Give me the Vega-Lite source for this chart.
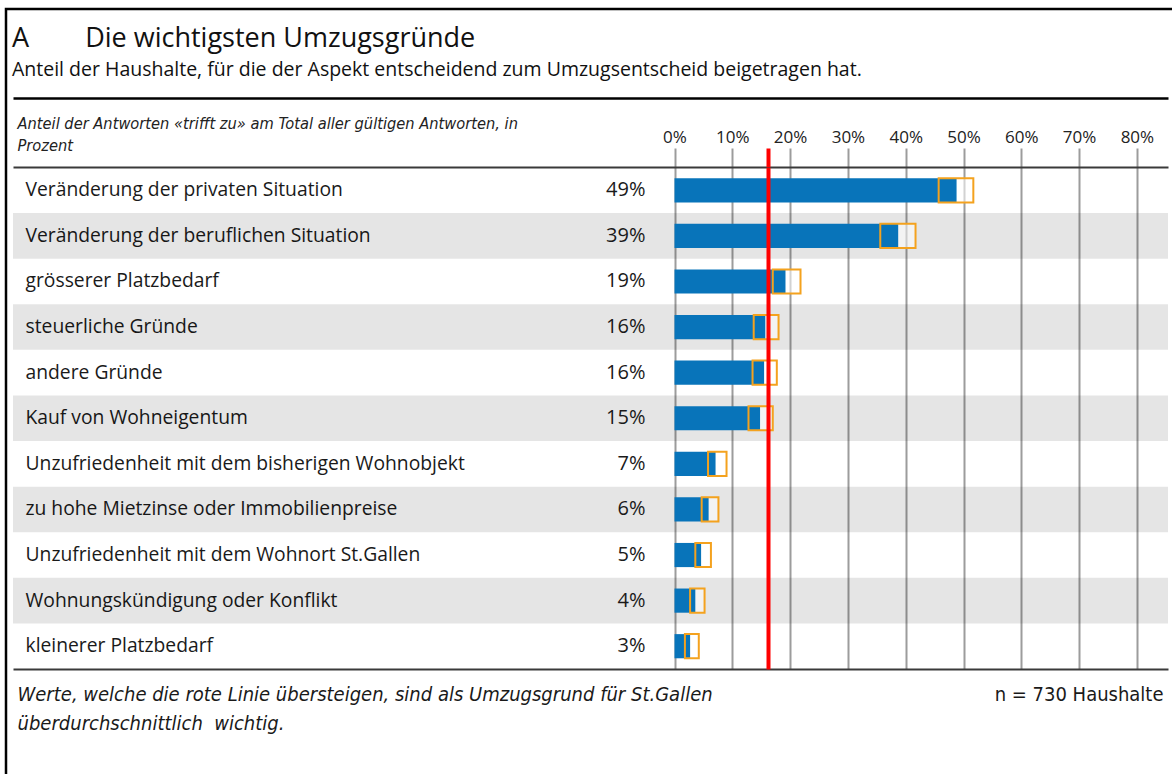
{
  "$schema": "https://vega.github.io/schema/vega-lite/v6.json",
  "autosize": {"type": "none"},
  "padding": {"left": 6, "top": 9, "right": -3, "bottom": -3},
  "width": 1169,
  "height": 768,
  "background": "#ffffff",
  "title": {
    "text": "A\u00a0\u00a0\u00a0\u00a0\u00a0\u00a0\u00a0\u00a0Die wichtigsten Umzugsgründe",
    "subtitle": "Anteil der Haushalte, für die der Aspekt entscheidend zum Umzugsentscheid beigetragen hat.",
    "anchor": "start",
    "frame": "group",
    "orient": "top",
    "offset": -71,
    "dx": 6,
    "font": "Open Sans",
    "fontSize": 27,
    "fontWeight": "normal",
    "color": "#111111",
    "subtitleFont": "Open Sans",
    "subtitleFontSize": 19.5,
    "subtitleColor": "#111111",
    "subtitlePadding": 8
  },
  "data": {
    "values": [
      {"rang": 1, "grund": "Veränderung der privaten Situation", "anteil": 0.488, "unten": 0.457, "oben": 0.517},
      {"rang": 2, "grund": "Veränderung der beruflichen Situation", "anteil": 0.387, "unten": 0.356, "oben": 0.417},
      {"rang": 3, "grund": "grösserer Platzbedarf", "anteil": 0.192, "unten": 0.170, "oben": 0.218},
      {"rang": 4, "grund": "steuerliche Gründe", "anteil": 0.157, "unten": 0.137, "oben": 0.180},
      {"rang": 5, "grund": "andere Gründe", "anteil": 0.155, "unten": 0.135, "oben": 0.177},
      {"rang": 6, "grund": "Kauf von Wohneigentum", "anteil": 0.148, "unten": 0.128, "oben": 0.170},
      {"rang": 7, "grund": "Unzufriedenheit mit dem bisherigen Wohnobjekt", "anteil": 0.071, "unten": 0.058, "oben": 0.090},
      {"rang": 8, "grund": "zu hohe Mietzinse oder Immobilienpreise", "anteil": 0.059, "unten": 0.047, "oben": 0.076},
      {"rang": 9, "grund": "Unzufriedenheit mit dem Wohnort St.Gallen", "anteil": 0.046, "unten": 0.036, "oben": 0.063},
      {"rang": 10, "grund": "Wohnungskündigung oder Konflikt", "anteil": 0.036, "unten": 0.027, "oben": 0.052},
      {"rang": 11, "grund": "kleinerer Platzbedarf", "anteil": 0.027, "unten": 0.018, "oben": 0.042}
    ]
  },
  "resolve": {"axis": {"x": "independent", "y": "independent"}},
  "layer": [
    {
      "transform": [{"filter": "datum.rang % 2 == 0"}],
      "mark": {"type": "bar", "color": "#000000", "opacity": 0.1, "height": {"band": 1}},
      "encoding": {
        "x": {
          "datum": -1.1445,
          "type": "quantitative",
          "axis": {
            "orient": "top",
            "offset": -89,
            "domain": true,
            "domainColor": "#000000",
            "domainWidth": 2.5,
            "ticks": false,
            "labels": false,
            "grid": false,
            "title": null
          }
        },
        "x2": {"datum": 0.8538},
        "y": {"field": "grund", "type": "nominal", "axis": null}
      }
    },
    {
      "mark": {"type": "bar", "color": "#ffffff", "opacity": 0.55, "height": {"band": 0.53}},
      "encoding": {
        "x": {
          "field": "unten",
          "type": "quantitative",
          "axis": {
            "orient": "top",
            "offset": -158,
            "values": [0.1625],
            "domain": false,
            "labels": false,
            "ticks": true,
            "tickSize": 19,
            "tickColor": "#ff0000",
            "tickWidth": 4,
            "grid": true,
            "gridColor": "#ff0000",
            "gridWidth": 4,
            "gridOpacity": 1,
            "zindex": 2,
            "title": null
          }
        },
        "x2": {"field": "oben"},
        "y": {"field": "grund", "type": "nominal", "axis": null}
      }
    },
    {
      "mark": {"type": "bar", "color": "#0874ba", "height": {"band": 0.53}},
      "encoding": {
        "x": {
          "field": "anteil",
          "type": "quantitative",
          "scale": {"domain": [-1.1445, 0.8538], "range": [7, 1162], "nice": false, "zero": false},
          "axis": {
            "orient": "top",
            "offset": -158,
            "values": [0, 0.1, 0.2, 0.3, 0.4, 0.5, 0.6, 0.7, 0.8],
            "format": ".0%",
            "domain": true,
            "domainColor": "#3a3a3a",
            "domainWidth": 2,
            "ticks": true,
            "tickSize": 19,
            "tickColor": "#9c9c9c",
            "tickWidth": 2,
            "grid": true,
            "gridColor": "#9c9c9c",
            "gridWidth": 2,
            "gridOpacity": 1,
            "labelFont": "Open Sans",
            "labelFontSize": 17,
            "labelColor": "#222222",
            "labelPadding": 6,
            "labelBaseline": "alphabetic",
            "labelFlush": false,
            "labelOverlap": false,
            "title": ["Anteil der Antworten «trifft zu» am Total aller gültigen Antworten, in", "Prozent"],
            "titleFont": "'Liberation Sans Narrow', 'DejaVu Sans Condensed', 'Open Sans', sans-serif",
            "titleFontStyle": "italic",
            "titleFontWeight": "normal",
            "titleFontSize": 16.3,
            "titleColor": "#222222",
            "titleAlign": "left",
            "titleBaseline": "alphabetic",
            "titleAngle": 0,
            "titleX": 11,
            "titleY": -39,
            "titleLineHeight": 22,
            "titleLimit": 1000
          }
        },
        "y": {
          "field": "grund",
          "type": "nominal",
          "sort": null,
          "scale": {
            "type": "band",
            "domain": [
              "Veränderung der privaten Situation",
              "Veränderung der beruflichen Situation",
              "grösserer Platzbedarf",
              "steuerliche Gründe",
              "andere Gründe",
              "Kauf von Wohneigentum",
              "Unzufriedenheit mit dem bisherigen Wohnobjekt",
              "zu hohe Mietzinse oder Immobilienpreise",
              "Unzufriedenheit mit dem Wohnort St.Gallen",
              "Wohnungskündigung oder Konflikt",
              "kleinerer Platzbedarf"
            ],
            "range": [158.5, 660],
            "paddingInner": 0,
            "paddingOuter": 0
          },
          "axis": {
            "orient": "left",
            "domain": false,
            "ticks": false,
            "tickSize": 0,
            "grid": false,
            "labelAlign": "left",
            "labelBaseline": "middle",
            "labelPadding": -19,
            "labelLimit": 0,
            "labelFont": "Open Sans",
            "labelFontSize": 19.3,
            "labelColor": "#1a1a1a",
            "title": ["Werte, welche die rote Linie übersteigen, sind als Umzugsgrund für St.Gallen", "überdurchschnittlich\u00a0\u00a0wichtig."],
            "titleFont": "'Liberation Sans Narrow', 'DejaVu Sans Condensed', 'Open Sans', sans-serif",
            "titleFontStyle": "italic",
            "titleFontWeight": "normal",
            "titleFontSize": 20,
            "titleColor": "#1a1a1a",
            "titleAngle": 0,
            "titleAlign": "left",
            "titleBaseline": "alphabetic",
            "titleX": 11,
            "titleY": 691,
            "titleLineHeight": 29,
            "titleLimit": 1000
          }
        }
      }
    },
    {
      "mark": {"type": "bar", "fillOpacity": 0, "stroke": "#f4a21e", "strokeWidth": 2, "height": {"band": 0.53}},
      "encoding": {
        "x": {
          "field": "unten",
          "type": "quantitative",
          "axis": {
            "orient": "bottom",
            "offset": -108,
            "domain": true,
            "domainColor": "#3a3a3a",
            "domainWidth": 2,
            "ticks": false,
            "labels": false,
            "grid": false,
            "title": null
          }
        },
        "x2": {"field": "oben"},
        "y": {"field": "grund", "type": "nominal", "axis": null}
      }
    },
    {
      "mark": {"type": "text", "align": "right", "baseline": "middle", "dx": -29, "font": "Open Sans", "fontSize": 20, "color": "#1a1a1a"},
      "encoding": {
        "x": {"datum": 0, "type": "quantitative", "axis": null},
        "y": {
          "field": "grund",
          "type": "nominal",
          "axis": {
            "orient": "right",
            "domain": false,
            "ticks": false,
            "labels": false,
            "grid": false,
            "title": "n = 730 Haushalte",
            "titleFont": "'Liberation Sans Narrow', 'DejaVu Sans Condensed', 'Open Sans', sans-serif",
            "titleFontStyle": "normal",
            "titleFontWeight": "normal",
            "titleFontSize": 20,
            "titleColor": "#1a1a1a",
            "titleAngle": 0,
            "titleAlign": "right",
            "titleBaseline": "alphabetic",
            "titleX": -12,
            "titleY": 691
          }
        },
        "text": {"field": "anteil", "type": "quantitative", "format": ".0%"}
      }
    }
  ],
  "config": {
    "view": {"stroke": "#000000", "strokeWidth": 2.5, "strokeDash": [1169, 1937, 768, 1]},
    "font": "Open Sans"
  }
}
